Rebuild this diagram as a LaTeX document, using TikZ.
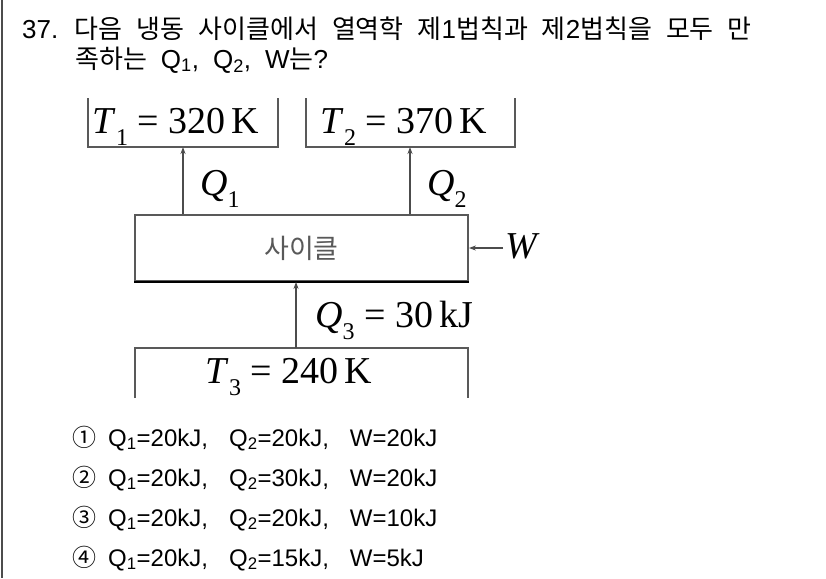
\documentclass[tikz,border=0pt]{standalone}
\usepackage{fontspec}
\setmainfont{Liberation Sans}
\newfontfamily\kr{Noto Sans CJK KR}
\newfontfamily\tms{Liberation Serif}
\usetikzlibrary{arrows.meta,positioning}
% lowered subscript for the diagram labels
\newcommand\lowsub[1]{\raisebox{-0.32em}{\fontsize{24}{24}\selectfont #1}}
\newcommand\qfont{\fontsize{26}{28}\selectfont\spaceskip=14pt\relax}
\newcommand\hg{\kr\fontsize{26}{28}\selectfont}
\tikzset{
  res/.style={line width=1.8pt, black!65},
  arr/.style={line width=1.8pt, black!70, -{Stealth[length=7pt,width=5pt]}},
  lbl/.style={anchor=base, font=\tms\fontsize{38}{40}\selectfont, inner sep=0pt},
  opt/.style={anchor=base west, font=\fontsize{24}{26}\selectfont, inner sep=0pt},
  ques/.style={anchor=base west, font=\qfont, inner sep=0pt}
}
\begin{document}
\begin{tikzpicture}[x=1pt,y=-1pt]
\useasboundingbox (0,0) rectangle (826,578);
\draw[black!70, line width=2pt] (1.5,0) -- (1.5,578);
% question
\node[ques] (qa) at (22,38) {37. {\hg 다음 냉동 사이클에서 열역학 제}1{\hg 법칙과 제}2{\hg 법칙을 모두 만}};
\node[ques] (qb) at (75,68) {{\hg 족하는} Q\textsubscript{1}, Q\textsubscript{2}, W{\hg 는}?};
% reservoirs
\draw[res] (88,98) -- (88,147) -- (278,147) -- (278,98);
\draw[res] (306,98) -- (306,147) -- (515,147) -- (515,98);
\node[lbl] (t1) at (176,133) {\textit{T}\lowsub{1} = 320\,K};
\node[lbl] (t2) at (404,133) {\textit{T}\lowsub{2} = 370\,K};
\coordinate (t1b) at (183,147);
\coordinate (t2b) at (410,147);
% cycle
\node[draw, res, minimum width=333, minimum height=66, inner sep=0pt,
  font=\kr\fontsize{27}{29}\selectfont] (cycle) at (301.5,248) {사이클};
\draw[black, line width=2.4pt] (cycle.south west) -- (cycle.south east);
\draw[arr] (cycle.north -| t1b) -- (t1b);
\draw[arr] (cycle.north -| t2b) -- (t2b);
\node[lbl, anchor=base west] (q1) at (200,195) {\textit{Q}\lowsub{1}};
\node[lbl, anchor=base west] (q2) at (427,195) {\textit{Q}\lowsub{2}};
% work
\coordinate (w) at (503,248);
\draw[arr] (w) -- (w -| cycle.east);
\node[lbl, anchor=base west] (wl) at (505,258) {\textit{W}};
% cold side
\coordinate (t3t) at (296,348);
\draw[res] (135,398) -- (135,348) -- (468,348) -- (468,398);
\draw[arr] (t3t) -- (t3t |- cycle.south);
\node[lbl, anchor=base west] (q3) at (315,327) {\textit{Q}\lowsub{3} = 30\,kJ};
\node[lbl] (t3) at (289,383) {\textit{T}\lowsub{3} = 240\,K};
% choices
\node[opt] (o1) at (72,446) {{\kr ①}\hspace{12pt}Q\textsubscript{1}=20kJ,\hspace{21pt}Q\textsubscript{2}=20kJ,\hspace{21pt}W=20kJ};
\node[opt] (o2) at (72,486) {{\kr ②}\hspace{12pt}Q\textsubscript{1}=20kJ,\hspace{21pt}Q\textsubscript{2}=30kJ,\hspace{21pt}W=20kJ};
\node[opt] (o3) at (72,526) {{\kr ③}\hspace{12pt}Q\textsubscript{1}=20kJ,\hspace{21pt}Q\textsubscript{2}=20kJ,\hspace{21pt}W=10kJ};
\node[opt] (o4) at (72,566) {{\kr ④}\hspace{12pt}Q\textsubscript{1}=20kJ,\hspace{21pt}Q\textsubscript{2}=15kJ,\hspace{21pt}W=5kJ};
\end{tikzpicture}
\end{document}
